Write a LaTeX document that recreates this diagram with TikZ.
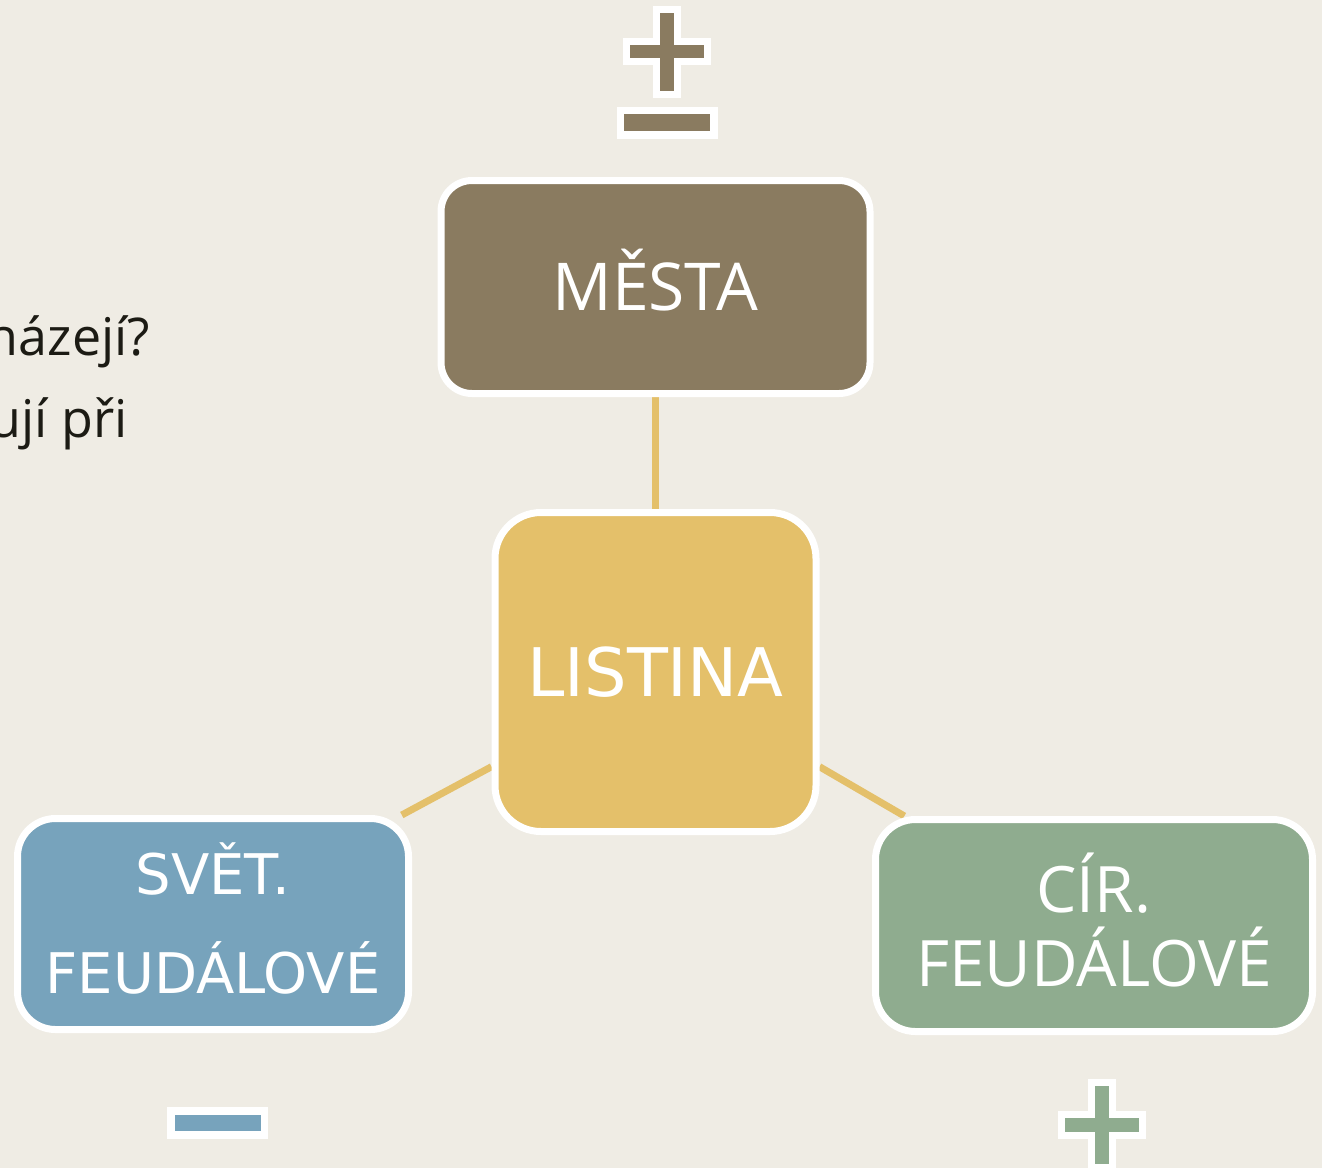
\documentclass[tikz,border=0pt]{standalone}
\usepackage{fontspec}
\newfontfamily\opensans{Open Sans}
\newfontfamily\dejavu{DejaVu Sans}
\usetikzlibrary{backgrounds}
\definecolor{bgc}{HTML}{EFECE4}
\definecolor{mestac}{HTML}{8A7B60}
\definecolor{listc}{HTML}{E4C06A}
\definecolor{svetc}{HTML}{77A3BC}
\definecolor{circ}{HTML}{8FAC8F}
\definecolor{textc}{HTML}{1C1B14}
\tikzset{
  box/.style={draw=white, line width=7pt, text=white, inner sep=0pt, align=center},
  link/.style={draw=listc, line width=7pt},
  sidetext/.style={anchor=base east, text=textc, inner sep=0pt, font={\opensans\fontsize{52}{60}\selectfont}}
}
\begin{document}
\begin{tikzpicture}[x=1pt,y=-1pt]
\useasboundingbox (0,0) rectangle (1322,1168);
\begin{scope}
\clip (0,0) rectangle (1322,1168);
% side text (cut at the left edge)
\node[sidetext] (q1) at (150,355) {házejí?};
\node[sidetext] (q2) at (128,437) {ují při};

% boxes
\node[box, fill=mestac, rounded corners=31pt, minimum width=429pt, minimum height=213pt,
      font={\opensans\fontsize{66}{70}\selectfont}, text height=47pt, text depth=0pt]
      (mesta) at (655.5,287) {MĚSTA};
\node[box, fill=listc, rounded corners=46pt, minimum width=321pt, minimum height=319pt,
      font={\dejavu\fontsize{67}{70}\selectfont}, text height=49pt, text depth=0pt]
      (listina) at (655.5,672) {LISTINA};
\node[box, fill=svetc, rounded corners=38pt, minimum width=391pt, minimum height=211pt,
      font={\dejavu\fontsize{56}{99}\selectfont}]
      (svet) at (213,924) {\raisebox{12pt}{SVĚT.}\\\raisebox{12pt}{FEUDÁLOVÉ}};
\node[box, fill=circ, rounded corners=40pt, minimum width=437pt, minimum height=212pt,
      font={\opensans\fontsize{64}{74}\selectfont}]
      (cir) at (1094,925.5) {\raisebox{12pt}{CÍR.}\\\raisebox{12pt}{FEUDÁLOVÉ}};

% background and connectors behind the boxes
\begin{scope}[on background layer]
\fill[bgc] (0,0) rectangle (1322,1168);
\draw[link] (mesta.south) -- (listina.north);
\draw[link] (listina.210) -- (svet.30);
\draw[link] (listina.330) -- (cir.150);
\end{scope}

% top plus-minus
\fill[white] (653,6) rectangle (681,98);
\fill[white] (623,38) rectangle (711,65);
\fill[mestac] (660,13) rectangle (674,91);
\fill[mestac] (630,45) rectangle (704,58);
\fill[white] (617,107) rectangle (718,139);
\fill[mestac] (624,114) rectangle (710,131);

% bottom minus
\fill[white] (167,1107) rectangle (268,1139);
\fill[svetc] (175,1115) rectangle (261,1131);

% bottom plus
\fill[white] (1088,1079) rectangle (1116,1171);
\fill[white] (1058,1111) rectangle (1146,1139);
\fill[circ] (1095,1086) rectangle (1109,1164);
\fill[circ] (1065,1118) rectangle (1139,1132);
\end{scope}
\end{tikzpicture}
\end{document}
